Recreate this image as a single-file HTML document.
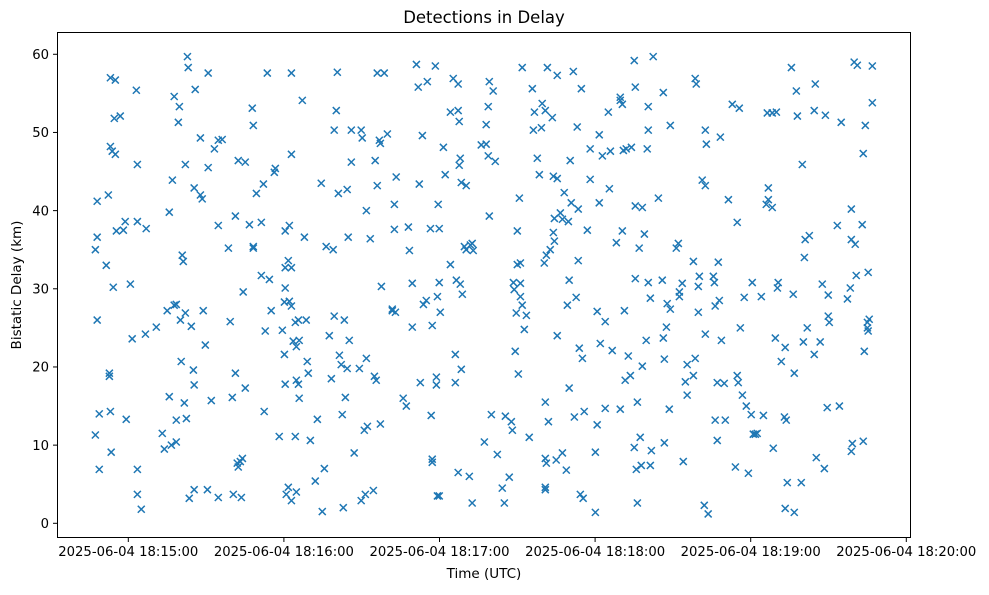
<!DOCTYPE html>
<html><head><meta charset="utf-8"><style>
html,body{margin:0;padding:0;background:#fff;}
svg text{font-family:"DejaVu Sans","Liberation Sans",sans-serif;fill:#000;}
</style></head><body>
<svg id="chart" width="989" height="590" viewBox="0 0 989 590" xmlns="http://www.w3.org/2000/svg">
<rect width="989" height="590" fill="#fff"/>
<text x="484" y="23" font-size="16.5" text-anchor="middle">Detections in Delay</text>
<g id="marks"></g>
<g id="xticks"></g>
<g id="yticks"></g>
<rect x="57.5" y="32.5" width="853" height="505" fill="none" stroke="#000" stroke-width="1"/>
<text x="484" y="578" font-size="13.5" text-anchor="middle">Time (UTC)</text>
<text transform="translate(21,285) rotate(-90)" font-size="13.5" text-anchor="middle">Bistatic Delay (km)</text>
</svg>
<script>
// seconds after 2025-06-04 18:15:00 UTC
const timeSec = [
-12.7,-12.0,-12.0,-12.7,-12.0,-11.2,-11.2,-8.5,-7.7,-6.9,-6.9,-7.3,-7.3,-6.9,-6.6,-6.2,-5.8,-5.4,-5.0,-5.0,-4.6,-3.1,-1.9,-1.2,-0.8,
0.8,1.5,3.1,3.5,3.5,3.5,3.5,5.0,6.6,6.9,
10.8,13.1,13.9,15.0,15.8,15.8,16.6,17.0,17.7,17.7,18.5,18.5,18.5,19.3,19.7,20.1,20.4,20.8,21.2,21.6,22.0,22.0,22.4,22.8,23.1,23.5,24.3,25.1,25.4,25.4,25.4,25.8,27.8,27.8,28.5,28.9,29.7,30.5,30.8,30.8,32.0,33.2,34.7,34.7,34.7,36.2,
38.6,39.3,40.1,40.5,41.3,41.3,42.0,42.4,42.4,43.2,43.6,44.0,44.3,45.1,45.1,46.7,47.8,48.2,48.2,48.2,49.4,51.3,51.3,52.1,52.4,52.8,53.6,54.4,55.1,56.3,56.7,58.2,59.4,60.2,60.5,60.5,60.5,60.2,60.5,60.9,61.7,61.7,62.1,62.1,62.9,62.9,62.9,62.9,62.9,63.6,64.4,64.4,64.8,64.8,64.8,65.6,65.9,65.9,65.6,67.1,67.9,68.6,69.0,69.4,70.2,
72.1,72.9,74.4,74.8,75.6,76.3,77.5,78.3,79.0,79.4,79.4,80.2,80.6,81.0,81.4,82.1,82.5,82.9,83.3,83.7,84.4,84.4,84.8,85.2,86.0,86.0,87.1,89.1,89.8,89.8,90.2,91.0,91.4,91.8,91.8,92.2,93.3,94.5,94.9,95.2,95.6,96.0,96.0,96.8,97.2,97.2,97.6,98.7,99.9,101.8,101.8,102.6,102.6,103.0,103.3,106.0,107.2,108.0,108.4,109.5,109.5,
111.1,111.8,112.2,112.6,113.4,113.8,114.9,115.3,116.5,116.8,117.2,117.2,117.2,118.4,118.8,118.8,119.2,119.2,119.5,119.9,119.9,119.9,120.3,121.5,122.2,124.2,124.2,125.3,126.1,126.1,126.5,127.2,127.2,127.2,127.6,127.6,128.0,128.0,128.4,128.4,128.8,129.6,130.3,130.3,131.5,131.9,132.6,132.6,133.0,136.1,137.3,138.0,138.0,138.8,138.8,139.2,139.2,140.0,140.7,141.5,142.3,144.2,145.0,145.4,
146.9,147.7,148.1,148.5,148.8,149.2,149.6,150.0,150.0,150.4,150.8,151.2,151.2,151.2,151.9,151.9,152.7,153.5,154.6,155.8,156.2,156.6,157.7,158.5,159.3,159.6,160.8,160.4,160.8,160.8,160.8,160.8,161.2,161.2,161.6,162.0,162.7,163.5,163.9,163.9,164.3,164.3,165.0,165.4,165.4,165.4,166.6,167.4,167.4,168.1,168.9,169.3,169.7,170.0,170.0,170.4,170.8,171.6,172.0,172.7,173.1,173.5,173.5,173.9,174.3,174.7,175.1,175.4,175.8,177.0,178.1,178.1,
180.1,180.1,180.8,180.8,181.6,181.6,182.0,182.8,183.9,183.9,185.1,185.5,185.9,186.6,188.2,189.7,189.7,189.7,190.5,190.5,190.9,191.3,191.6,192.0,192.8,193.6,194.0,195.1,195.5,195.5,195.1,195.5,195.9,196.3,196.3,197.0,197.4,197.8,198.2,198.2,199.0,199.7,200.1,200.5,200.5,200.5,201.3,201.3,201.7,202.4,204.4,205.9,206.3,206.3,206.7,206.7,207.5,207.8,208.6,209.0,209.0,211.3,212.1,212.5,212.5,213.6,
214.0,214.8,215.5,215.5,217.9,217.9,218.6,219.0,218.6,219.8,219.8,220.2,221.3,222.5,222.1,222.5,222.9,222.5,223.6,225.6,226.0,226.3,226.3,227.1,227.1,227.5,227.9,228.3,228.7,229.8,230.2,231.4,232.9,234.1,234.8,234.8,235.2,235.6,236.0,236.8,237.5,238.3,239.1,240.2,240.6,241.0,241.8,242.5,244.1,244.9,246.0,246.4,246.8,246.8,248.3,248.3,248.7,249.5,249.9,250.3,250.6,
251.8,253.0,253.3,253.3,253.7,254.1,255.7,256.4,256.8,256.8,257.6,258.0,259.5,259.9,260.3,260.7,261.0,261.8,262.6,264.5,264.5,264.9,265.3,266.8,267.6,268.4,268.8,269.5,269.9,269.9,270.3,273.4,274.2,274.9,277.3,278.4,278.8,278.8,278.8,279.2,279.9,280.3,280.7,281.1,283.0,283.4,283.4,283.8,284.2,285.0,285.0,285.3,285.3,285.7,286.9,286.9
];
const delayKm = [
35,36.6,41.2,11.3,26,6.9,14,33,42,57,48.2,18.8,19.2,14.3,9.1,47.6,30.2,51.8,56.7,47.2,37.4,52.1,37.5,38.6,13.3,
30.6,23.6,55.4,45.9,38.6,6.9,3.7,1.8,24.2,37.7,
25.1,11.5,9.5,27.2,39.8,16.2,10,43.9,54.6,27.9,28,10.4,13.2,51.3,53.3,26,20.7,34.3,33.5,15.4,45.9,26.9,13.4,59.7,58.3,3.2,25.2,19.6,4.3,17.7,42.9,55.5,49.3,42,41.5,27.2,22.8,4.3,57.6,45.5,15.7,47.9,49,38.1,3.3,49.1,
35.2,25.8,16.1,3.7,19.2,39.3,7.7,46.4,7.2,7.9,3.3,8.3,29.6,46.2,17.3,38.2,53.1,35.2,50.9,35.4,42.2,38.5,31.7,43.4,14.3,24.6,57.6,31.2,27.2,44.9,45.4,11.1,24.7,28.3,37.4,30.1,32.7,21.6,17.8,3.7,4.6,33.6,38.1,28.4,27.8,57.6,47.2,32.7,2.9,23.3,25.7,11.1,18.3,4,22.6,26,16,23.4,17.8,54.1,36.6,26,20.7,19.2,10.6,
5.4,13.3,43.5,1.5,7,35.4,24,18.5,35,26.5,50.3,52.8,57.7,42.2,21.5,20.3,13.9,2,26,16.1,19.8,42.7,36.6,23.4,46.2,50.3,9,19.8,50.3,2.9,49.3,11.9,3.7,21.1,40,12.4,36.4,4.2,18.8,46.4,18.3,43.2,57.6,49,12.7,48.6,30.3,57.6,49.8,27.4,27.2,40.8,37.6,27,44.3,16,15,37.9,34.9,25.1,30.7,
58.7,55.8,43.4,18,49.6,28,28.5,56.5,37.7,13.8,25.3,8.2,7.8,58.5,18.7,17.7,3.5,29,40.8,3.5,37.7,30.8,27,48.1,44.6,33.1,52.6,56.9,21.6,18,31.1,6.5,56.2,52.8,51.4,45.8,46.7,30.6,43.6,19.7,29.3,35.4,43.2,35,6,35.6,35.8,2.6,34.9,48.4,10.4,51,48.5,53.3,47,39.3,56.5,13.9,55.3,46.3,8.8,4.5,2.6,13.7,
5.9,13,11.9,30.8,29.9,22,26.9,33.1,37.4,19.1,41.6,33.3,29,30.7,27.9,58.3,24.8,26.6,11,55.6,50.3,52.6,46.7,44.6,50.6,53.7,52.8,33.3,8.3,4.6,4.3,15.5,34.3,7.7,58.3,13,35,51.9,44.4,37.2,36.1,39,8.1,44.1,24,57.3,39.7,9,38.9,42.3,6.8,27.9,38.6,17.3,31.1,46.4,41,57.8,13.6,28.9,50.7,40.2,33.6,22.4,3.7,55.6,21.1,3.2,14.3,37.5,44,47.9,
1.4,9.1,12.6,27.1,49.7,41,23,47,25.8,14.7,52.6,42.8,47.6,22.1,35.9,54.1,14.6,54.5,53.6,37.4,47.7,27.2,18.3,47.9,21.4,18.9,48.1,9.7,55.8,31.3,59.2,40.6,6.9,2.6,15.5,35.2,11,7.4,40.4,20.1,37,23.4,47.9,50.3,30.8,53.3,28.8,7.4,9.3,59.7,41.6,31.1,23.7,55.1,10.3,21,25.1,28.1,14.6,50.9,27.4,35.2,35.8,29,29.6,30.7,
7.9,18.1,20.3,16.4,18.9,33.5,56.9,56.2,21.1,27,30.3,31.6,43.9,43.2,2.3,50.3,48.5,24.2,1.2,31.6,30.8,27.8,13.2,10.6,18,33.4,28.5,49.4,23.4,17.9,13.2,41.4,53.6,7.2,18.9,38.5,18,53.1,25,16.4,28.9,15,6.4,13.9,30.8,11.4,11.4,11.5,29,13.8,40.8,52.5,42.9,41.4,40.4,52.5,9.6,23.7,52.6,30.1,30.8,
20.7,13.6,22.5,1.9,13.2,5.2,58.3,29.3,19.2,1.4,55.3,52.1,5.2,45.9,23.2,34,36.3,25,36.8,21.6,52.8,56.2,8.4,23.2,30.6,7,52.2,14.8,29.2,26.5,25.7,38.1,15,51.3,28.7,30.1,40.2,36.3,9.2,10.2,59,35.7,31.7,58.6,38.2,10.5,47.3,22,50.9,25,25.7,32.1,24.6,26.1,58.5,53.8
];
const xTickSec = [0, 60, 120, 180, 240, 300];
const xTickLabels = ["2025-06-04 18:15:00","2025-06-04 18:16:00","2025-06-04 18:17:00","2025-06-04 18:18:00","2025-06-04 18:19:00","2025-06-04 18:20:00"];
const yTickVals = [0, 10, 20, 30, 40, 50, 60];

const NS = "http://www.w3.org/2000/svg";
function xs(t){ return 128.3 + t * 155.6 / 60; }
function ys(v){ return 523.3 - v * 7.817; }
function mk(tag, attrs){ const e = document.createElementNS(NS, tag); for (const k in attrs) e.setAttribute(k, attrs[k]); return e; }

const marks = document.getElementById('marks');
const n = Math.min(timeSec.length, delayKm.length);
for (let i = 0; i < n; i++) {
  const cx = xs(timeSec[i]), cy = ys(delayKm[i]), r = 3.5;
  const p = mk('path', {d:`M${cx-r},${cy-r}L${cx+r},${cy+r}M${cx-r},${cy+r}L${cx+r},${cy-r}`, stroke:'#1f77b4', 'stroke-width':'1.5', fill:'none'});
  
  
  marks.appendChild(p);
}
const xg = document.getElementById('xticks');
xTickSec.forEach((t, i) => {
  const x = xs(t);
  const l = mk('line', {x1:x, x2:x, y1:537.5, y2:542, stroke:'#000', 'stroke-width':'1'});
  
  
  xg.appendChild(l);
  const tx = mk('text', {x:x, y:556, 'font-size':'13.2', 'text-anchor':'middle'});
  
  
  tx.textContent = xTickLabels[i];
  xg.appendChild(tx);
});
const yg = document.getElementById('yticks');
yTickVals.forEach(v => {
  const y = ys(v);
  const l = mk('line', {x1:53, x2:57.5, y1:y, y2:y, stroke:'#000', 'stroke-width':'1'});
  
  
  yg.appendChild(l);
  const tx = mk('text', {x:49, y:y + 4.7, 'font-size':'13.2', 'text-anchor':'end'});
  
  
  tx.textContent = String(v);
  yg.appendChild(tx);
});
</script>
</body></html>
